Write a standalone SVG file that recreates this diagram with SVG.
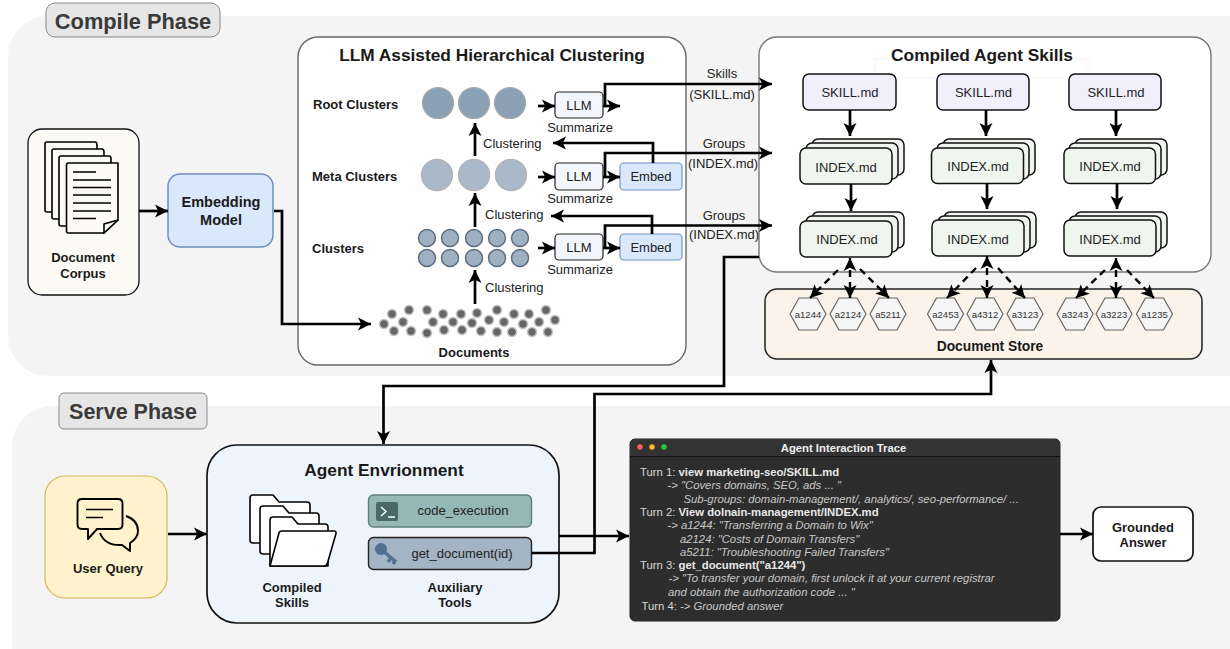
<svg xmlns="http://www.w3.org/2000/svg" width="1230" height="649" viewBox="0 0 1230 649">
<style>
text{font-family:"Liberation Sans",Arial,sans-serif;fill:#1a1a1a}
.c{text-anchor:middle}
.b{font-weight:700}
.t13{font-size:13px}
.tt{font-size:17.300px}
.lbl{font-size:13px;fill:#222}
.phase{fill:#e6e6e6;stroke:#8a8a8a;stroke-width:1}
.ptxt{font-weight:700;fill:#3a3a3a;text-anchor:middle}
.icon{fill:#fbfaf5;stroke:#000;stroke-width:1.6;stroke-linejoin:round}
.iline{stroke:#000;stroke-width:1.5;fill:none}
.llm{fill:#f3f7fb;stroke:#222;stroke-width:1.2}
.embed{fill:#dae8fc;stroke:#6c8ebf;stroke-width:1.1}
.skill{fill:#f1effb;stroke:#111;stroke-width:1.5}
.index{fill:#f0f5ef;stroke:#111;stroke-width:1.5}
.hex{fill:#f5f5f5;stroke:#666;stroke-width:1.2}
.hext{font-size:9.500px;fill:#333;text-anchor:middle}
.r{fill:#8aa0b5;stroke:#a8a8a8;stroke-width:1.2}
.m{fill:#a9b9c9;stroke:#b0b4b8;stroke-width:1.4}
.cl{fill:#9fb0c2;stroke:#5a6b7b;stroke-width:1.4}
.d{fill:#666;stroke:#c4c4c4;stroke-width:1.6}
.tr{font-size:11.300px;fill:#d8d8d8}
.tb{font-weight:700;fill:#e8e8e8}
.ti{font-style:italic;fill:#c8c8c8}
.w{fill:none;stroke:#000;stroke-width:2.700;stroke-linejoin:miter}
.a{marker-end:url(#ah)}
.dash{fill:none;stroke:#000;stroke-width:2.400;stroke-dasharray:7 5;marker-end:url(#ah2)}
.dash2{fill:none;stroke:#000;stroke-width:2.400;stroke-dasharray:7 5;marker-start:url(#ahs);marker-end:url(#ah2)}
</style>
<defs>
<marker id="ah" markerUnits="userSpaceOnUse" markerWidth="15" markerHeight="15" refX="13" refY="7" orient="auto"><path d="M13 7L0 .5L3.200 7L0 13.500Z" fill="#000"/></marker>
<marker id="ah2" markerUnits="userSpaceOnUse" markerWidth="15" markerHeight="15" refX="13" refY="7" orient="auto"><path d="M13 7L0 .5L3.200 7L0 13.500Z" fill="#000"/></marker>
<marker id="ahs" markerUnits="userSpaceOnUse" markerWidth="15" markerHeight="15" refX="13" refY="7" orient="auto-start-reverse"><path d="M13 7L0 .5L3.200 7L0 13.500Z" fill="#000"/></marker>
</defs>

<g id="compile-phase">
<rect x="8" y="16" width="1262" height="360" rx="40" fill="#f4f4f4"/>
<rect class="phase" x="46" y="3" width="174" height="34" rx="9"/>
<text class="ptxt" x="133" y="29" font-size="21.800">Compile Phase</text>
</g>
<g id="serve-phase">
<rect x="12" y="406" width="1258" height="283" rx="40" fill="#f4f4f4"/>
<rect class="phase" x="59" y="393" width="148" height="36" rx="5"/>
<text class="ptxt" x="133" y="419" font-size="21.500">Serve Phase</text>
</g>

<g id="document-corpus">
<rect x="28" y="129" width="111" height="166" rx="14" fill="#fbfaf5" stroke="#111" stroke-width="1.3"/>
<path class="icon" d="M45 144q0-2 2-2h48q2 0 2 3v67H47q-2 0-2-2Z"/>
<path class="icon" d="M52 151q0-2 2-2h48q2 0 2 3v67H54q-2 0-2-2Z"/>
<path class="icon" d="M59 158q0-2 2-2h48q2 0 2 3v67H61q-2 0-2-2Z"/>
<path class="icon" d="M66.500 165q0-2 2-2H118V220L104 233H68.500q-2 0-2-2Z"/>
<path class="icon" d="M104 233V224L118 220Z"/>
<path class="iline" d="M73 172H96M73 180H111M73 187.500H111M73 195H111M73 203H111M73 211H111M73 218.500H96"/>
<text class="c b t13" x="83" y="262">Document</text>
<text class="c b t13" x="83" y="278">Corpus</text>
</g>

<g id="embedding-model">
<rect x="168" y="174" width="105" height="73" rx="12" fill="#dae8fc" stroke="#6c8ebf" stroke-width="1.5"/>
<text class="c b" x="221" y="207" font-size="14.500">Embedding</text>
<text class="c b" x="221" y="225" font-size="14.500">Model</text>
</g>

<g id="clustering-panel">
<rect x="298" y="37" width="388" height="328" rx="20" fill="#fefefe" stroke="#666" stroke-width="1.4"/>
<text class="c b tt" x="492" y="61">LLM Assisted Hierarchical Clustering</text>
<text class="b t13" x="313" y="109">Root Clusters</text>
<text class="b t13" x="312" y="181">Meta Clusters</text>
<text class="b t13" x="312" y="253">Clusters</text>
<text class="lbl" x="483" y="148">Clustering</text>
<text class="lbl" x="485" y="219">Clustering</text>
<text class="lbl" x="485" y="292">Clustering</text>
<text class="c b t13" x="474" y="357">Documents</text>
</g>
<g id="root-clusters">
<circle class="r" cx="438" cy="103" r="15.500"/><circle class="r" cx="474" cy="103" r="15.500"/><circle class="r" cx="510" cy="103" r="15.500"/>
</g>
<g id="meta-clusters">
<circle class="m" cx="437" cy="175" r="15.500"/><circle class="m" cx="474" cy="175" r="15.500"/><circle class="m" cx="511" cy="175" r="15.500"/>
</g>
<g id="clusters">
<circle class="cl" cx="427" cy="238" r="8.500"/><circle class="cl" cx="450" cy="238" r="8.500"/><circle class="cl" cx="474" cy="238" r="8.500"/><circle class="cl" cx="497" cy="238" r="8.500"/><circle class="cl" cx="520" cy="238" r="8.500"/>
<circle class="cl" cx="427" cy="258" r="8.500"/><circle class="cl" cx="450" cy="258" r="8.500"/><circle class="cl" cx="474" cy="258" r="8.500"/><circle class="cl" cx="497" cy="258" r="8.500"/><circle class="cl" cx="520" cy="258" r="8.500"/>
</g>
<g id="documents">
<circle class="d" cx="392" cy="314" r="4.500"/><circle class="d" cx="409" cy="310" r="4.500"/><circle class="d" cx="427" cy="310" r="4.500"/><circle class="d" cx="443" cy="314" r="4.500"/><circle class="d" cx="461" cy="314" r="4.500"/><circle class="d" cx="477" cy="313" r="4.500"/><circle class="d" cx="497" cy="310" r="4.500"/><circle class="d" cx="514" cy="314" r="4.500"/><circle class="d" cx="529" cy="314" r="4.500"/><circle class="d" cx="546" cy="310" r="4.500"/><circle class="d" cx="555" cy="320" r="4.500"/>
<circle class="d" cx="384" cy="324" r="4.500"/><circle class="d" cx="403" cy="322" r="4.500"/><circle class="d" cx="433" cy="322" r="4.500"/><circle class="d" cx="453" cy="322" r="4.500"/><circle class="d" cx="472" cy="323" r="4.500"/><circle class="d" cx="489" cy="320" r="4.500"/><circle class="d" cx="504" cy="322" r="4.500"/><circle class="d" cx="523" cy="324" r="4.500"/><circle class="d" cx="539" cy="322" r="4.500"/>
<circle class="d" cx="394" cy="331" r="4.500"/><circle class="d" cx="411" cy="331" r="4.500"/><circle class="d" cx="427" cy="333" r="4.500"/><circle class="d" cx="444" cy="330" r="4.500"/><circle class="d" cx="462" cy="330" r="4.500"/><circle class="d" cx="481" cy="331" r="4.500"/><circle class="d" cx="497" cy="332" r="4.500"/><circle class="d" cx="512" cy="332" r="4.500"/><circle class="d" cx="532" cy="332" r="4.500"/><circle class="d" cx="548" cy="332" r="4.500"/>
</g>
<g id="llm-root"><rect class="llm" x="555" y="92" width="48" height="26" rx="4"/><text class="c lbl" x="579" y="110">LLM</text><text class="c lbl" x="580" y="132">Summarize</text></g>
<g id="llm-meta"><rect class="llm" x="555" y="163" width="48" height="27" rx="4"/><text class="c lbl" x="579" y="181">LLM</text><text class="c lbl" x="580" y="203">Summarize</text></g>
<g id="llm-clusters"><rect class="llm" x="555" y="234" width="48" height="26" rx="4"/><text class="c lbl" x="579" y="252">LLM</text><text class="c lbl" x="580" y="274">Summarize</text></g>
<g id="embed-meta"><rect class="embed" x="620" y="163" width="62" height="27" rx="4"/><text class="c lbl" x="651" y="181">Embed</text></g>
<g id="embed-clusters"><rect class="embed" x="620" y="234" width="62" height="26" rx="4"/><text class="c lbl" x="651" y="252">Embed</text></g>

<g id="compiled-skills">
<rect x="759" y="37" width="452" height="235" rx="18" fill="#fff" stroke="#777" stroke-width="1.4"/>
<rect x="875" y="59" width="213" height="19" fill="none" stroke="#f6f6f6" stroke-width="1"/>
<text class="c b tt" x="982" y="61">Compiled Agent Skills</text>
</g>
<g id="skill-1"><rect class="skill" x="803" y="74" width="93" height="36" rx="6"/><text class="c lbl" x="850" y="97">SKILL.md</text></g>
<g id="skill-2"><rect class="skill" x="937" y="74" width="92" height="36" rx="6"/><text class="c lbl" x="983.500" y="97">SKILL.md</text></g>
<g id="skill-3"><rect class="skill" x="1069" y="74" width="92" height="36" rx="6"/><text class="c lbl" x="1116" y="97">SKILL.md</text></g>
<g id="index-1-1"><rect class="index" x="812" y="139" width="92" height="36" rx="6"/><rect class="index" x="806" y="143" width="92" height="36" rx="6"/><rect class="index" x="800" y="148" width="92" height="36" rx="6"/><text class="c lbl" x="846" y="172">INDEX.md</text></g>
<g id="index-2-1"><rect class="index" x="943" y="139" width="92" height="36" rx="6"/><rect class="index" x="937" y="143" width="92" height="36" rx="6"/><rect class="index" x="931.500" y="148" width="92" height="35.500" rx="6"/><text class="c lbl" x="978" y="171">INDEX.md</text></g>
<g id="index-3-1"><rect class="index" x="1075" y="139" width="92" height="36" rx="6"/><rect class="index" x="1069" y="143" width="92" height="36" rx="6"/><rect class="index" x="1064" y="148" width="91.500" height="35.500" rx="6"/><text class="c lbl" x="1110" y="171">INDEX.md</text></g>
<g id="index-1-2"><rect class="index" x="812" y="212" width="92" height="36" rx="6"/><rect class="index" x="806" y="216" width="92" height="36" rx="6"/><rect class="index" x="800" y="221" width="92" height="36" rx="6"/><text class="c lbl" x="847" y="244">INDEX.md</text></g>
<g id="index-2-2"><rect class="index" x="944" y="212" width="92" height="36" rx="6"/><rect class="index" x="938" y="216" width="92" height="36" rx="6"/><rect class="index" x="932" y="220" width="92" height="36" rx="6"/><text class="c lbl" x="978" y="244">INDEX.md</text></g>
<g id="index-3-2"><rect class="index" x="1075" y="212" width="92" height="36" rx="6"/><rect class="index" x="1069" y="216" width="92" height="36" rx="6"/><rect class="index" x="1064" y="220" width="92" height="36" rx="6"/><text class="c lbl" x="1110" y="244">INDEX.md</text></g>

<g id="document-store">
<rect x="765" y="289" width="437" height="70" rx="12" fill="#faf3ea" stroke="#222" stroke-width="1.5"/>
<text class="c b" x="990" y="351" font-size="13.800">Document Store</text>
<path class="hex" d="M790 314L799 298H817L826 314L817 330H799Z"/><text class="hext" x="808" y="317.500">a1244</text>
<path class="hex" d="M830 314L839 298H857L866 314L857 330H839Z"/><text class="hext" x="848" y="317.500">a2124</text>
<path class="hex" d="M870 314L879 298H897L906 314L897 330H879Z"/><text class="hext" x="888" y="317.500">a5211</text>
<path class="hex" d="M927.500 314L936.500 298H954.500L963.500 314L954.500 330H936.500Z"/><text class="hext" x="945.500" y="317.500">a2453</text>
<path class="hex" d="M967 314L976 298H994L1003 314L994 330H976Z"/><text class="hext" x="985" y="317.500">a4312</text>
<path class="hex" d="M1007 314L1016 298H1034L1043 314L1034 330H1016Z"/><text class="hext" x="1025" y="317.500">a3123</text>
<path class="hex" d="M1057 314L1066 298H1084L1093 314L1084 330H1066Z"/><text class="hext" x="1075" y="317.500">a3243</text>
<path class="hex" d="M1096 314L1105 298H1123L1132 314L1123 330H1105Z"/><text class="hext" x="1114" y="317.500">a3223</text>
<path class="hex" d="M1136.500 314L1145.500 298H1163.500L1172.500 314L1163.500 330H1145.500Z"/><text class="hext" x="1154.500" y="317.500">a1235</text>
</g>

<g id="user-query">
<rect x="45" y="476" width="122" height="122" rx="20" fill="#fff2cc" stroke="#d6b656" stroke-width="1.2"/>
<path d="M82 499H118Q122.500 499 122.500 503.500V524.500Q122.500 529 118 529H97L88 539V529H82Q77.500 529 77.500 524.500V503.500Q77.500 499 82 499Z" fill="none" stroke="#000" stroke-width="1.9" stroke-linejoin="round"/>
<path d="M126 516Q138 520 138 531Q138 538 130 543V551L122 545Q105 546 100 533" fill="none" stroke="#000" stroke-width="1.9" stroke-linejoin="round"/>
<path d="M86 509.500H113M86 517.500H103" stroke="#000" stroke-width="1.6" fill="none"/>
<text class="c b t13" x="108" y="573">User Query</text>
</g>

<g id="agent-environment">
<rect x="207" y="445" width="352" height="178" rx="30" fill="#edf4fc" stroke="#111" stroke-width="1.7"/>
<text class="c b tt" x="384" y="476">Agent Envrionment</text>
<path class="icon" d="M250 498q0-3 3-3h20l6 7h28q3 0 3 3v38h-57q-3 0-3-3Z" style="fill:#fff"/>
<path class="icon" d="M260 509q0-3 3-3h20l6 7h27q3 0 3 3v38h-56q-3 0-3-3Z" style="fill:#fff"/>
<path class="icon" d="M270 520q0-3 3-3h19l6 7h27q3 0 3 3v39h-58Z" style="fill:#fff"/>
<path class="icon" d="M270 566L279 533q.5-2 3-2h52q2.500 0 2 2.500L327.500 563q-.8 3-3.500 3Z" style="fill:#fff"/>
<text class="c b t13" x="292" y="592">Compiled</text>
<text class="c b t13" x="292" y="607">Skills</text>
<text class="c b t13" x="455" y="592">Auxiliary</text>
<text class="c b t13" x="455" y="607">Tools</text>
</g>
<g id="code-execution">
<rect x="368.500" y="495" width="163" height="32" rx="5" fill="#95b8b4" stroke="#5f7f7c" stroke-width="1.4"/>
<rect x="376" y="502" width="22" height="19" rx="2" fill="#4a6a68"/>
<path d="M381 507L386 511.500L381 516M388 517H395" fill="none" stroke="#fff" stroke-width="1.4"/>
<text class="c lbl" x="463" y="515">code_execution</text>
</g>
<g id="get-document">
<rect x="368.500" y="537.500" width="163" height="32" rx="5" fill="#a3b4c4" stroke="#222" stroke-width="1.4"/>
<circle cx="381" cy="549" r="6" fill="#52708f"/>
<path d="M382 550L396 562M391 558L388 562M395 561L393 564" fill="none" stroke="#52708f" stroke-width="3.400"/>
<text class="c lbl" x="462" y="558">get_document(id)</text>
</g>

<g id="agent-trace">
<rect x="630" y="439" width="430" height="182" rx="5" fill="#2d2d2d" stroke="#222" stroke-width="1"/>
<path d="M630 456V444q0-5 5-5H1055q5 0 5 5V456Z" fill="#333"/>
<path d="M630 456.500H1060" stroke="#111" stroke-width="1"/>
<circle cx="640" cy="447" r="2.700" fill="#ff5f56"/><circle cx="652" cy="447" r="2.700" fill="#ffbd2e"/><circle cx="664" cy="447" r="2.700" fill="#27c93f"/>
<text class="c b" x="843.500" y="452" font-size="11.300" style="fill:#eee">Agent Interaction Trace</text>
<text class="tr" x="640" y="476">Turn 1: <tspan class="tb">view marketing-seo/SKILL.md</tspan></text>
<text class="tr ti" x="667.500" y="489">-&gt; "Covers domains, SEO, ads ... "</text>
<text class="tr ti" x="683.500" y="503">Sub-groups: domain-management/, analytics/, seo-performance/ ...</text>
<text class="tr" x="640" y="516">Turn 2: <tspan class="tb">View dolnain-management/INDEX.md</tspan></text>
<text class="tr ti" x="667.500" y="529">-&gt; a1244: "Transferring a Domain to Wix"</text>
<text class="tr ti" x="680" y="543">a2124: "Costs of Domain Transfers"</text>
<text class="tr ti" x="680" y="556">a5211: "Troubleshooting Failed Transfers"</text>
<text class="tr" x="640" y="569">Turn 3: <tspan class="tb">get_document("a1244")</tspan></text>
<text class="tr ti" x="668.500" y="582">-&gt; "To transfer your domain, first unlock it at your current registrar</text>
<text class="tr ti" x="668" y="596">and obtain the authorization code ... "</text>
<text class="tr" x="641.500" y="610">Turn 4: <tspan class="ti">-&gt; Grounded answer</tspan></text>
</g>

<g id="grounded-answer">
<rect x="1093" y="507" width="100" height="54" rx="8" fill="#fff" stroke="#111" stroke-width="1.7"/>
<text class="c b t13" x="1143" y="532">Grounded</text>
<text class="c b t13" x="1143" y="547">Answer</text>
</g>

<g id="connectors">
<path class="w a" d="M139 211H168"/>
<path class="w a" d="M274 211H282V324H371"/>
<path class="w a" d="M475 304V270"/>
<path class="w a" d="M475 227V193"/>
<path class="w a" d="M475 156V123"/>
<path class="w a" d="M538 106H555"/>
<path class="w a" d="M538 177H555"/>
<path class="w a" d="M538 248H555"/>
<path class="w a" d="M603 106H620"/>
<path class="w a" d="M603 177H620"/>
<path class="w a" d="M603 248H620"/>
<path class="w a" d="M605 106V84H772"/>
<path class="w a" d="M605 177V153H772"/>
<path class="w a" d="M605 248V225.500H772"/>
<path class="w a" d="M653 163V143H553"/>
<path class="w a" d="M652 234V216H551"/>
<path class="w a" d="M850 110V136"/>
<path class="w a" d="M986 110V136"/>
<path class="w a" d="M1116 110V136"/>
<path class="w a" d="M851 184V211"/>
<path class="w a" d="M987 183V209"/>
<path class="w a" d="M1117 183V209"/>
<path class="dash" d="M838 270L810 298"/>
<path class="dash2" d="M850 258V298"/>
<path class="dash" d="M860 269L889 298"/>
<path class="dash" d="M976 268L947 298"/>
<path class="dash2" d="M987 256V298"/>
<path class="dash" d="M998 268L1025 298"/>
<path class="dash" d="M1105 270L1076 298"/>
<path class="dash2" d="M1116 258V298"/>
<path class="dash" d="M1127 270L1154 298"/>
<path class="w a" d="M759 257H724V386H383.500V444"/>
<path class="w a" d="M531.500 553H594.500V394H991V360"/>
<path class="w a" d="M559 536H629"/>
<path class="w a" d="M168 534H207"/>
<path class="w a" d="M1060 534H1093"/>
<text class="c lbl" x="722" y="78">Skills</text>
<text class="c lbl" x="722" y="99">(SKILL.md)</text>
<text class="c lbl" x="724" y="148">Groups</text>
<text class="c lbl" x="723" y="168">(INDEX.md)</text>
<text class="c lbl" x="724" y="220">Groups</text>
<text class="c lbl" x="724" y="239">(INDEX.md)</text>
</g>
</svg>
